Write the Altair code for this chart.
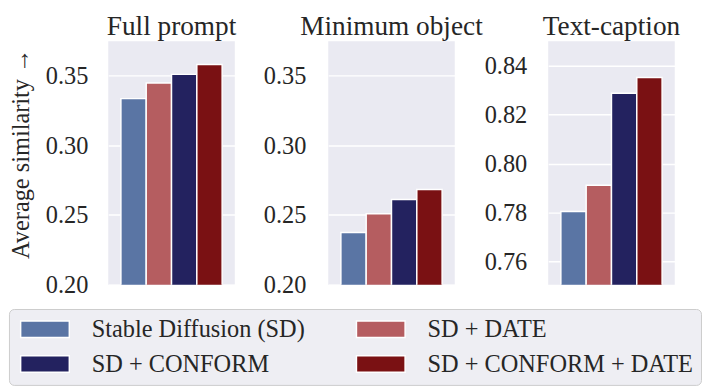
import altair as alt
import pandas as pd

methods = ["Stable Diffusion (SD)", "SD + DATE", "SD + CONFORM", "SD + CONFORM + DATE"]
colors = ["#5A75A4", "#B55D60", "#23225F", "#7A1113"]
panels = ["Full prompt", "Minimum object", "Text-caption"]
full_prompt = [0.3335, 0.3447, 0.3509, 0.3579]
minimum_object = [0.2375, 0.2509, 0.2611, 0.2683]
text_caption = [0.7804, 0.7911, 0.8288, 0.8353]
y_domains = [[0.2, 0.3746], [0.2, 0.3746], [0.7504, 0.8501]]
y_ticks = [[0.20, 0.25, 0.30, 0.35], [0.20, 0.25, 0.30, 0.35], [0.76, 0.78, 0.80, 0.82, 0.84]]
label_pads = [21, 23, 22]

FONT = "Liberation Serif, DejaVu Serif"
series = [full_prompt, minimum_object, text_caption]


def panel(i):
    df = pd.DataFrame({"method": methods, "value": series[i]})
    axis_kwargs = dict(values=y_ticks[i], format=".2f", labelPadding=label_pads[i])
    if i == 0:
        axis_kwargs.update(title="Average similarity \u2192", titlePadding=12,
                           titleY=115, titleFontSize=25, titleFont=FONT,
                           titleFontWeight="normal", titleColor="#262626")
    else:
        axis_kwargs.update(title=None)
    return (
        alt.Chart(df, title=alt.Title(panels[i]))
        .mark_bar(clip=True, stroke="white", strokeWidth=1.5)
        .encode(
            x=alt.X("method:N", sort=methods, axis=None,
                    scale=alt.Scale(paddingInner=0, paddingOuter=0.5)),
            y=alt.Y("value:Q",
                    scale=alt.Scale(domain=y_domains[i], zero=False, nice=False),
                    axis=alt.Axis(**axis_kwargs)),
            color=alt.Color("method:N", sort=methods,
                            scale=alt.Scale(domain=methods, range=colors),
                            legend=alt.Legend(title=None)),
        )
        .properties(width=130, height=250)
    )


chart = (
    alt.hconcat(panel(0), panel(1), panel(2), spacing=96, bounds="flush")
    .resolve_scale(y="independent", x="independent", color="shared")
    .properties(padding=0)
    .configure_view(stroke=None, fill="#EAEAF2")
    .configure_axis(grid=True, gridColor="white", gridWidth=1.5, domain=False,
                    ticks=False, tickSize=0, labelFont=FONT, labelFontSize=25,
                    labelColor="#262626")
    .configure_title(font=FONT, fontSize=28, fontWeight="normal", color="#262626",
                     offset=1)
    .configure_legend(orient="none", legendX=-102, legendY=275, columns=2,
                      direction="horizontal",
                      symbolType="M-1,-1L4.88,-1L4.88,1L-1,1Z",
                      symbolSize=289, symbolStrokeColor="white",
                      symbolStrokeWidth=1.5, symbolOpacity=1,
                      labelFont=FONT, labelFontSize=25, labelColor="#262626",
                      labelOffset=52, labelLimit=400, columnPadding=49,
                      rowPadding=10, padding=8, fillColor="#EEEEF3",
                      strokeColor="#CCCCCC", cornerRadius=5)
)

chart.save("out.html", embed_options={"renderer": "svg", "actions": False})
